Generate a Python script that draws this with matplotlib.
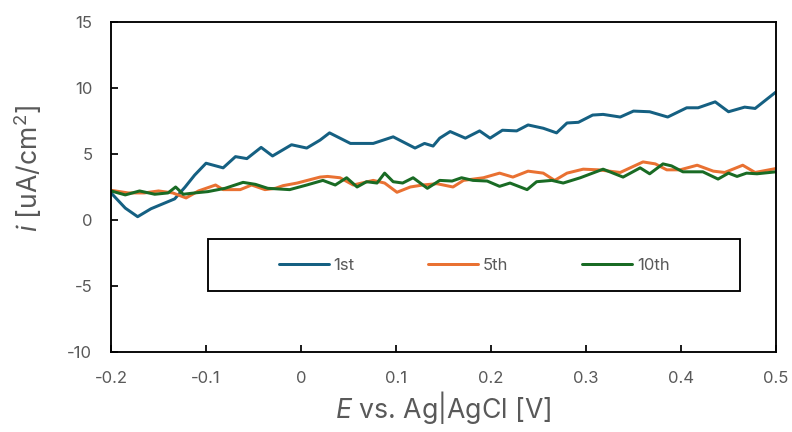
import matplotlib
matplotlib.use("Agg")
import matplotlib.pyplot as plt
from matplotlib.patches import Rectangle


# =========================
# Data: current vs potential for three cycles
# =========================

cycle_labels = ["1st", "5th", "10th"]
cycle_colors = ["#156082", "#E97132", "#196B24"]

e_1st = [-0.200, -0.185, -0.172, -0.158, -0.143, -0.133, -0.122, -0.112, -0.100, -0.082,
         -0.069, -0.057, -0.042, -0.030, -0.010, 0.006, 0.020, 0.030, 0.052, 0.076,
         0.097, 0.120, 0.130, 0.139, 0.146, 0.157, 0.173, 0.188, 0.199, 0.212,
         0.227, 0.239, 0.255, 0.269, 0.280, 0.292, 0.307, 0.318, 0.336, 0.350,
         0.367, 0.386, 0.406, 0.418, 0.436, 0.450, 0.467, 0.478, 0.500]
i_1st = [2.05, 0.90, 0.25, 0.85, 1.30, 1.60, 2.50, 3.40, 4.30, 3.95,
         4.80, 4.65, 5.50, 4.85, 5.70, 5.45, 6.05, 6.60, 5.80, 5.80,
         6.30, 5.45, 5.80, 5.60, 6.20, 6.70, 6.20, 6.75, 6.20, 6.80,
         6.75, 7.20, 6.95, 6.60, 7.35, 7.40, 7.95, 8.00, 7.80, 8.25,
         8.20, 7.80, 8.50, 8.50, 8.95, 8.20, 8.55, 8.45, 9.70]

e_5th = [-0.200, -0.182, -0.165, -0.150, -0.135, -0.121, -0.108, -0.090, -0.082, -0.064,
         -0.052, -0.038, -0.027, -0.019, -0.004, 0.020, 0.028, 0.041, 0.055, 0.076,
         0.088, 0.101, 0.115, 0.128, 0.143, 0.160, 0.171, 0.192, 0.209, 0.223,
         0.239, 0.255, 0.267, 0.280, 0.297, 0.313, 0.336, 0.360, 0.373, 0.385,
         0.399, 0.417, 0.434, 0.446, 0.465, 0.478, 0.500]
i_5th = [2.25, 2.05, 2.05, 2.20, 2.05, 1.67, 2.20, 2.65, 2.30, 2.30,
         2.65, 2.30, 2.40, 2.60, 2.80, 3.25, 3.30, 3.20, 2.65, 3.00,
         2.80, 2.10, 2.50, 2.65, 2.75, 2.50, 3.00, 3.20, 3.55, 3.25,
         3.70, 3.55, 3.00, 3.55, 3.85, 3.80, 3.60, 4.40, 4.25, 3.80,
         3.80, 4.15, 3.70, 3.60, 4.15, 3.60, 3.90]

e_10th = [-0.200, -0.185, -0.170, -0.154, -0.140, -0.132, -0.124, -0.112, -0.098, -0.080,
          -0.061, -0.048, -0.035, -0.012, 0.006, 0.023, 0.036, 0.048, 0.059, 0.069,
          0.080, 0.088, 0.097, 0.107, 0.118, 0.133, 0.146, 0.159, 0.169, 0.181,
          0.196, 0.209, 0.220, 0.238, 0.248, 0.264, 0.276, 0.294, 0.318, 0.339,
          0.357, 0.367, 0.381, 0.390, 0.402, 0.423, 0.439, 0.450, 0.459, 0.469,
          0.480, 0.500]
i_10th = [2.20, 1.90, 2.20, 1.95, 2.05, 2.50, 1.95, 2.05, 2.15, 2.40,
          2.85, 2.70, 2.40, 2.30, 2.65, 3.00, 2.65, 3.20, 2.50, 2.90,
          2.80, 3.55, 2.90, 2.80, 3.20, 2.40, 3.00, 2.95, 3.20, 3.00,
          2.95, 2.55, 2.80, 2.30, 2.90, 3.00, 2.80, 3.20, 3.85, 3.25,
          3.95, 3.50, 4.25, 4.10, 3.65, 3.65, 3.10, 3.55, 3.30, 3.55,
          3.50, 3.65]

x_ticks = [-0.2, -0.1, 0, 0.1, 0.2, 0.3, 0.4, 0.5]
x_tick_labels = ["-0.2", "-0.1", "0", "0.1", "0.2", "0.3", "0.4", "0.5"]
y_ticks = [-10, -5, 0, 5, 10, 15]
y_tick_labels = ["-10", "-5", "0", "5", "10", "15"]


# =========================
# Style
# =========================

TEXT_GRAY = "#595959"

plt.rcParams["font.family"] = ["Inter", "DejaVu Sans"]
plt.rcParams["mathtext.fontset"] = "custom"
plt.rcParams["mathtext.rm"] = "Inter"
plt.rcParams["mathtext.it"] = "Inter:italic"


# =========================
# Plot
# =========================

fig = plt.figure(figsize=(8.25, 4.5), dpi=96)
ax = fig.add_axes([0.1402, 0.1852, 0.8396, 0.7639])

series = [(e_1st, i_1st), (e_5th, i_5th), (e_10th, i_10th)]
for (e_vals, i_vals), label, color in zip(series, cycle_labels, cycle_colors):
    ax.plot(e_vals, i_vals, color=color, lw=2.25, label=label,
            solid_joinstyle="round", solid_capstyle="round")

ax.set_xlim(-0.2, 0.5)
ax.set_ylim(-10, 15)
ax.set_xticks(x_ticks)
ax.set_xticklabels(x_tick_labels)
ax.set_yticks(y_ticks)
ax.set_yticklabels(y_tick_labels)

ax.tick_params(axis="both", direction="in", length=5, width=1.3,
               labelsize=12.5, labelcolor=TEXT_GRAY, pad=14)
ax.tick_params(top=False, right=False)

for spine in ax.spines.values():
    spine.set_linewidth(1.4)
    spine.set_color("black")

ax.set_xlabel(r"$\it{E}$ vs. Ag|AgCl [V]", fontsize=20, color=TEXT_GRAY)
ax.set_ylabel(r"$\it{i}$ [uA/cm$^2$]", fontsize=20, color=TEXT_GRAY)
ax.xaxis.set_label_coords(0.499, -0.112)
ax.yaxis.set_label_coords(-0.15, 0.555)
ax.yaxis.label.set_va("top")
ax.xaxis.label.set_va("top")

# legend box drawn as its own rectangle, entries centred inside it
ax.add_patch(Rectangle((0.146, 0.185), 0.80, 0.157, transform=ax.transAxes,
                       facecolor="white", edgecolor="black", lw=1.4, zorder=4))
leg = ax.legend(loc="center", bbox_to_anchor=(0.546, 0.2636), ncol=3,
                frameon=False, fontsize=12.5, handlelength=3.0,
                handletextpad=0.3, columnspacing=4.4)
leg.set_zorder(5)
for text in leg.get_texts():
    text.set_color(TEXT_GRAY)

fig.savefig("out.png", dpi=96)
